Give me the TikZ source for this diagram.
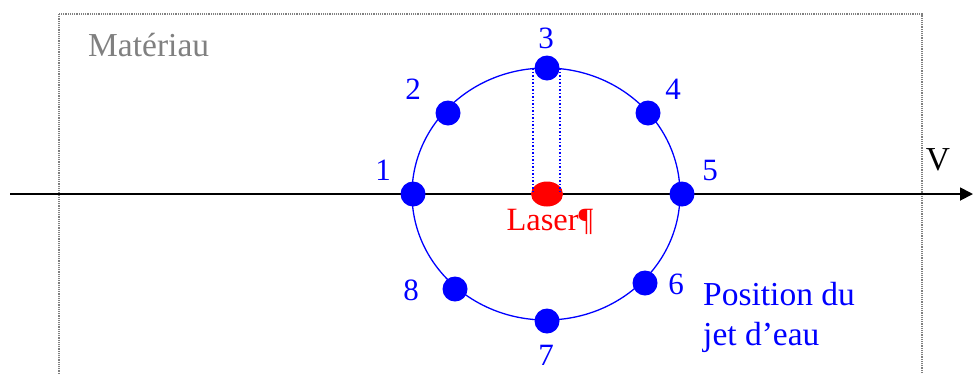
\documentclass[tikz,border=0pt]{standalone}
\usepackage{fontspec}
\setmainfont{Liberation Serif}
\usetikzlibrary{arrows.meta,shapes.geometric}
\definecolor{jetblue}{RGB}{0,0,255}
\definecolor{matgray}{RGB}{128,128,128}
\tikzset{
  dot/.style={circle, fill=jetblue, inner sep=0pt, minimum size=25pt},
  num/.style={text=jetblue, font=\fontsize{31}{34}\selectfont, inner sep=0pt},
  lbl/.style={font=\fontsize{33.5}{40}\selectfont, inner sep=0pt},
}
\begin{document}
\begin{tikzpicture}[x=1pt,y=-1pt]
\useasboundingbox (0,0) rectangle (973,373);
\clip (0,0) rectangle (973,373);
% material box
\draw[matgray, densely dotted, line width=1.2pt] (59,14) rectangle (922,400);
\node[lbl, text=matgray, anchor=west] (mat) at (88,45) {Matériau};
% axis
\coordinate (axs) at (10,194);
\coordinate (axe) at (973,194);
\draw[line width=1.8pt, -{Triangle[length=13pt,width=13pt]}] (axs) -- (axe);
\node[lbl] (v) at (938,160) {V};
% trajectory
\draw[jetblue, line width=1.3pt] (546,194) ellipse [x radius=134, y radius=126];
% laser
\node[ellipse, fill=red, inner sep=0pt, minimum width=32pt, minimum height=25pt] (laser) at (547,194) {};
\node[lbl, text=red, font=\fontsize{32.5}{38}\selectfont] (lt) at (550,222) {Laser¶};
% dots
\node[dot] (d1) at (413,194) {};
\node[dot] (d2) at (448,113) {};
\node[dot] (d3) at (547,68) {};
\node[dot] (d4) at (648,113) {};
\node[dot] (d5) at (682,194) {};
\node[dot] (d6) at (645,283) {};
\node[dot] (d7) at (547,321) {};
\node[dot] (d8) at (455,289) {};
% dotted projection lines
\coordinate (pl) at (533,194);
\coordinate (pr) at (560,194);
\draw[jetblue, dotted, line width=1.5pt] (pl |- d3.center) -- (pl);
\draw[jetblue, dotted, line width=1.5pt] (pr |- d3.center) -- (pr);
% numbers
\node[num] (n1) at (383,170) {1};
\node[num] (n2) at (413,89) {2};
\node[num] (n3) at (546,38) {3};
\node[num] (n4) at (673,89) {4};
\node[num] (n5) at (710,170) {5};
\node[num] (n6) at (676,284) {6};
\node[num] (n7) at (546,355) {7};
\node[num] (n8) at (411,290) {8};
% legend
\node[lbl, text=jetblue, anchor=west, align=left] (pos) at (703,317) {Position du\\jet d’eau};
\end{tikzpicture}
\end{document}
